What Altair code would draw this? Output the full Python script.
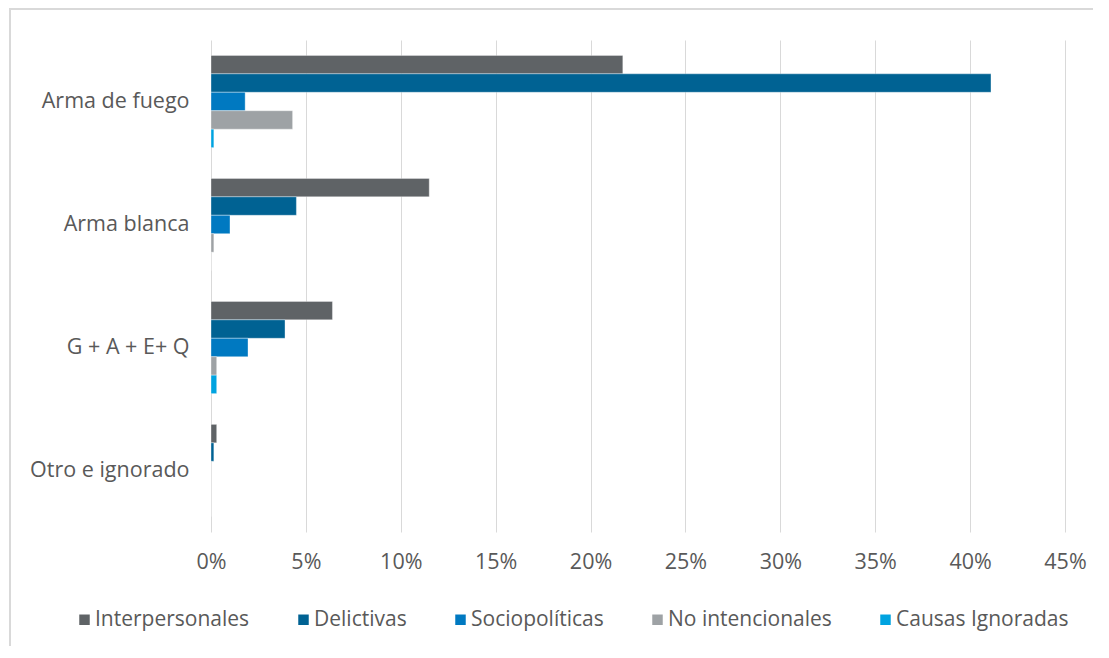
import altair as alt
import pandas as pd

categories = ["Arma de fuego", "Arma blanca", "G + A + E+ Q", "Otro e ignorado"]
series = ["Interpersonales", "Delictivas", "Sociopolíticas", "No intencionales", "Causas Ignoradas"]
colors = ["#5f6366", "#006293", "#0079c1", "#9ea2a5", "#00a3e0"]

interpersonales = [21.7, 11.5, 6.4, 0.3]
delictivas = [41.1, 4.5, 3.9, 0.15]
sociopoliticas = [1.8, 1.0, 1.95, 0.0]
no_intencionales = [4.3, 0.15, 0.3, 0.0]
causas_ignoradas = [0.15, 0.0, 0.3, 0.0]

values = [interpersonales, delictivas, sociopoliticas, no_intencionales, causas_ignoradas]
rows = []
for s, vals in zip(series, values):
    for c, v in zip(categories, vals):
        rows.append({"cat": c, "series": s, "value": v / 100})
df = pd.DataFrame(rows)

FONT = "Open Sans"
TXT = "#595959"

bars = alt.Chart(df).mark_bar(stroke="#ffffff", strokeWidth=0.6, strokeOpacity=0.6).encode(
    y=alt.Y("cat:N", sort=categories, title=None,
            scale=alt.Scale(paddingInner=0.25, paddingOuter=0.125),
            axis=alt.Axis(labelFontSize=21.5, labelColor=TXT, labelFont=FONT, ticks=False,
                          domain=False, labelPadding=22, grid=False)),
    yOffset=alt.YOffset("series:N", sort=series, scale=alt.Scale(paddingInner=0, paddingOuter=0)),
    x=alt.X("value:Q", title=None,
            scale=alt.Scale(domain=[0, 0.45], nice=False),
            axis=alt.Axis(format=".0%", values=[i * 0.05 for i in range(10)], labelFontSize=21.5,
                          labelColor=TXT, labelFont=FONT, ticks=False, domain=False,
                          labelFlush=False, labelBound=False,
                          grid=True, gridColor="#d9d9d9", gridWidth=1, labelPadding=19)),
    color=alt.Color("series:N", sort=series, scale=alt.Scale(domain=series, range=colors),
                    legend=alt.Legend(title=None, orient="none", legendX=-137, legendY=569,
                                      direction="horizontal", columns=5, symbolType="square",
                                      symbolSize=110, symbolStrokeWidth=0, labelFontSize=21,
                                      labelFont=FONT, labelColor=TXT, columnPadding=43,
                                      labelOffset=0, labelLimit=300)),
)

border_left = alt.Chart(df).mark_rule(color="#d9d9d9", strokeWidth=2, clip=False).encode(
    x=alt.value(-201), y=alt.value(-31), y2=alt.value(720))
border_top = alt.Chart(df).mark_rule(color="#d9d9d9", strokeWidth=2, clip=False).encode(
    x=alt.value(-202), x2=alt.value(1000), y=alt.value(-31))

chart = alt.layer(bars, border_left, border_top).properties(
    width=854, height=492,
    autosize=alt.AutoSizeParams(type="none"),
    padding={"left": 203, "top": 32, "right": 28, "bottom": 114},
).configure(background="#ffffff", view=alt.ViewConfig(stroke=None))

chart.save("out.html", embed_options={"renderer": "svg", "actions": False})
